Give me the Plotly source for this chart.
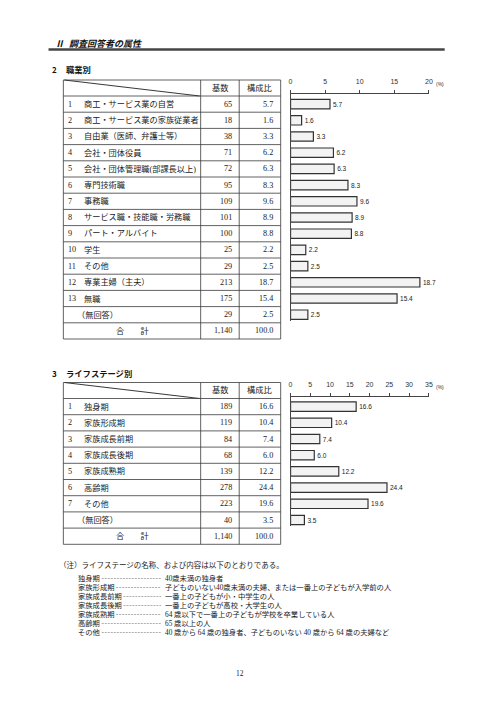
import plotly.graph_objects as go

W, H = 496, 702
OFF = 8  # page body margin of the html page

SERIF = "Liberation Serif, Noto Sans CJK JP"
GOTHIC = "Noto Sans CJK JP"
SANS = "Liberation Sans, Arial"

# --- 2 職業別 ---
jobs = ["商工・サービス業の自営", "商工・サービス業の家族従業者", "自由業（医師、弁護士等）",
        "会社・団体役員", "会社・団体管理職(部課長以上)", "専門技術職", "事務職",
        "サービス職・技能職・労務職", "パート・アルバイト", "学生", "その他",
        "専業主婦（主夫）", "無職"]
job_counts = [65, 18, 38, 71, 72, 95, 109, 101, 100, 25, 29, 213, 175]
job_pcts = [5.7, 1.6, 3.3, 6.2, 6.3, 8.3, 9.6, 8.9, 8.8, 2.2, 2.5, 18.7, 15.4]
job_noans = (29, 2.5)
job_total = (1140, 100.0)

# --- 3 ライフステージ別 ---
stages = ["独身期", "家族形成期", "家族成長前期", "家族成長後期", "家族成熟期", "高齢期", "その他"]
stage_counts = [189, 119, 84, 68, 139, 278, 223]
stage_pcts = [16.6, 10.4, 7.4, 6.0, 12.2, 24.4, 19.6]
stage_noans = (40, 3.5)
stage_total = (1140, 100.0)

job_ticks = [0, 5, 10, 15, 20]
stage_ticks = [0, 5, 10, 15, 20, 25, 30, 35]

note_head = "（注）ライフステージの名称、および内容は以下のとおりである。"
note_terms = ["独身期", "家族形成期", "家族成長前期", "家族成長後期", "家族成熟期", "高齢期", "その他"]
note_desc = ["40歳未満の独身者",
             "子どものいない40歳未満の夫婦、または一番上の子どもが入学前の人",
             "一番上の子どもが小・中学生の人",
             "一番上の子どもが高校・大学生の人",
             "64 歳以下で一番上の子どもが学校を卒業している人",
             "65 歳以上の人",
             "40 歳から 64 歳の独身者、子どものいない 40 歳から 64 歳の夫婦など"]

NOANS = "（無回答）"

# layout in page pixels
TL, C1, C2, TR = 62, 201, 240, 282
ROW_H = 16.2
HEAD_H = 16
LINE = "#3a3a3a"


def px(x):
    return (x - OFF) / W


def py(y):
    return 1 - (y - OFF) / H


shapes = []
annots = []


def line(x0, y0, x1, y1, w=0.8, color=LINE, dash=None):
    shapes.append(dict(type="line", xref="paper", yref="paper",
                       x0=px(x0), y0=py(y0), x1=px(x1), y1=py(y1),
                       line=dict(color=color, width=w, dash=dash)))


def text(x, y, s, size=8.2, anchor="left", font=SERIF, color="#222"):
    annots.append(dict(x=px(x), y=py(y), xref="paper", yref="paper", text=s,
                       showarrow=False, xanchor=anchor, yanchor="middle",
                       borderpad=0, font=dict(size=size, family=font, color=color)))


def draw_table(top, labels, counts, pcts, noans, total):
    hb = top + HEAD_H
    n = len(labels) + 2
    bottom = hb + n * ROW_H
    for y in [top, hb] + [hb + ROW_H * (i + 1) for i in range(n)]:
        line(TL, y, TR, y)
    for x in [TL, C1, C2, TR]:
        line(x, top, x, bottom)
    line(TL + 1, top, C1 - 1, hb, w=1.1)
    text((C1 + C2) / 2, (top + hb) / 2, "基数", anchor="center")
    text((C2 + TR) / 2, (top + hb) / 2, "構成比", anchor="center")
    for i, lab in enumerate(labels):
        yc = hb + ROW_H * (i + 0.5)
        text(66, yc, str(i + 1))
        text(82, yc, lab)
        text(233.5, yc, f"{counts[i]:,}", anchor="right")
        text(275, yc, f"{pcts[i]:.1f}", anchor="right")
    yc = hb + ROW_H * (len(labels) + 0.5)
    text(75, yc, NOANS)
    text(233.5, yc, f"{noans[0]:,}", anchor="right")
    text(275, yc, f"{noans[1]:.1f}", anchor="right")
    yc = hb + ROW_H * (len(labels) + 1.5)
    text((TL + C1) / 2, yc, "合　　計", anchor="center")
    text(233.5, yc, f"{total[0]:,}", anchor="right")
    text(275, yc, f"{total[1]:.1f}", anchor="right")
    return hb


def y_axis(first_top, T, B):
    def val(p):
        return (p - first_top) / ROW_H - 0.5
    return [py(B), py(T)], [val(B), val(T)]


# page header
text(53, 43, "<b><i>Ⅱ</i></b>", size=9, font=GOTHIC, color="#111")
text(67, 43, "<b><i>調査回答者の属性</i></b>", size=9, font=GOTHIC, color="#111")
line(47, 49.5, 448, 49.5, w=2.6, color="#444")

text(49, 69, "<b>2</b>", size=8, font=GOTHIC, color="#111")
text(64, 69, "<b>職業別</b>", size=8.3, font=GOTHIC, color="#111")
text(49, 373, "<b>3</b>", size=8, font=GOTHIC, color="#111")
text(64, 373, "<b>ライフステージ別</b>", size=8.3, font=GOTHIC, color="#111")

hb1 = draw_table(80, jobs, job_counts, job_pcts, job_noans, job_total)
hb2 = draw_table(382.5, stages, stage_counts, stage_pcts, stage_noans, stage_total)

# notes
text(57, 565, note_head, size=7.5)
for i, (term, desc) in enumerate(zip(note_terms, note_desc)):
    yc = 578 + 9 * i
    text(76, yc, term, size=7.3)
    line(76 + 7.3 * len(term) + 3, yc + 0.5, 161, yc + 0.5, w=0.6, color="#777", dash="2px,1px")
    text(164, yc, desc, size=7.3)

text(241, 673, "12", size=7.5, anchor="center")

fig = go.Figure()

bar_style = dict(orientation="h", marker=dict(color="#f3f3f3", line=dict(color="#333", width=1.2)),
                 width=0.58, textposition="outside", cliponaxis=False,
                 textfont=dict(size=6.5, family=SANS, color="#222"), hoverinfo="skip")

y1_all = jobs + [NOANS]
x1_all = job_pcts + [job_noans[1]]
fig.add_trace(go.Bar(x=x1_all, y=y1_all, text=[f"{v:.1f}" for v in x1_all],
                     xaxis="x", yaxis="y", **bar_style))

y2_all = stages + [NOANS + " "]
x2_all = stage_pcts + [stage_noans[1]]
fig.add_trace(go.Bar(x=x2_all, y=y2_all, text=[f"{v:.1f}" for v in x2_all],
                     xaxis="x2", yaxis="y2", **bar_style))

d1, r1 = y_axis(hb1, 94, 321)
d2, r2 = y_axis(hb2, 397, 526)

xcommon = dict(side="top", showline=True, linecolor="#444", linewidth=1, ticks="outside",
               ticklen=3, tickcolor="#444", showgrid=False, zeroline=False,
               tickfont=dict(size=7, family=SANS, color="#333"), ticklabelstandoff=3)
ycommon = dict(type="category", showline=True, linecolor="#444", linewidth=1.2,
               showticklabels=False, ticks="", showgrid=False, zeroline=False)

fig.update_layout(
    width=W, height=H, margin=dict(l=0, r=0, t=0, b=0),
    paper_bgcolor="white", plot_bgcolor="white", showlegend=False,
    xaxis=dict(domain=[px(292), px(432)], range=[0, 20], anchor="y", tickvals=job_ticks, **xcommon),
    yaxis=dict(domain=d1, range=r1, anchor="x", categoryarray=y1_all, **ycommon),
    xaxis2=dict(domain=[px(292), px(432)], range=[0, 35], anchor="y2", tickvals=stage_ticks, **xcommon),
    yaxis2=dict(domain=d2, range=r2, anchor="x2", categoryarray=y2_all, **ycommon),
    shapes=shapes, annotations=annots,
)

for ylab in (84, 387):
    fig.add_annotation(x=px(438), y=py(ylab), xref="paper", yref="paper", text="(%)",
                       showarrow=False, xanchor="left", yanchor="middle", borderpad=0,
                       font=dict(size=5, family=SANS, color="#333"))

fig.write_html("out.html")
